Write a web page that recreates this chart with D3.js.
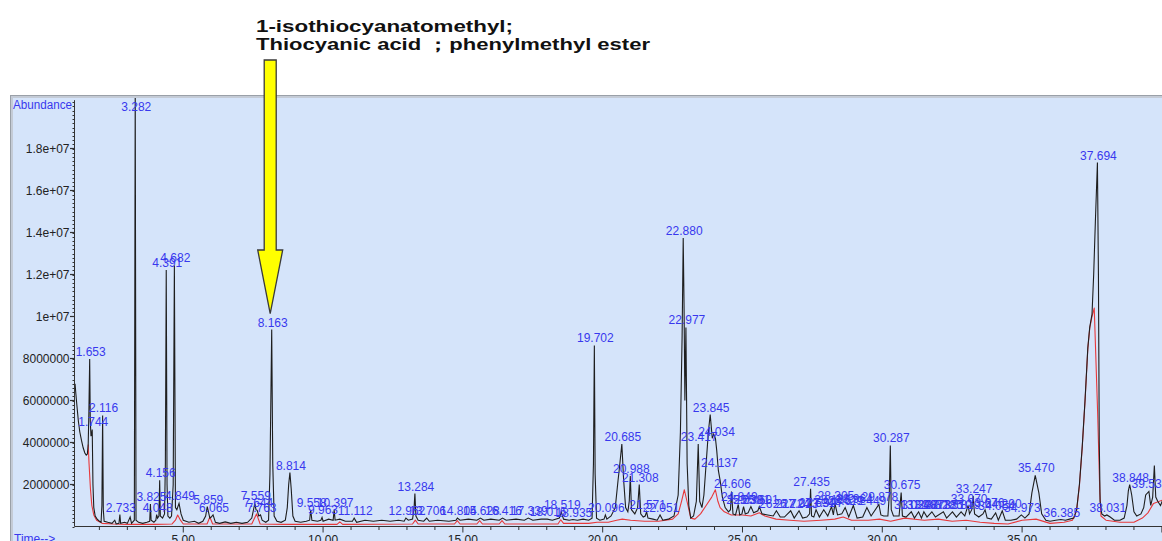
<!DOCTYPE html>
<html>
<head>
<meta charset="utf-8">
<script src="https://cdn.jsdelivr.net/npm/d3@7/dist/d3.min.js"></script>
<style>
  html, body { margin: 0; padding: 0; background: #fff; }
  svg { display: block; font-family: "Liberation Sans", Arial, sans-serif; }
</style>
</head>
<body>
<svg id="chart" width="1162" height="541"></svg>
<script>
// ---- Data (time in minutes, abundance in millions of counts) ----
const peakTimes = [1.653, 1.744, 2.116, 2.733, 3.282, 3.825, 4.048, 4.156, 4.391, 4.682, 4.849,
  5.859, 6.065, 7.559, 7.644, 7.763, 8.163, 8.814, 9.558, 9.963, 10.397, 11.112, 12.962, 13.284,
  13.706, 14.804, 15.628, 16.416, 17.339, 18.016, 18.519, 18.935, 19.702, 20.096, 20.685, 20.988,
  21.308, 21.571, 22.051, 22.880, 22.977, 23.417, 23.845, 24.034, 24.137, 24.606, 24.849, 25.038,
  25.301, 25.601, 26.212, 26.724, 27.023, 27.435, 27.631, 27.907, 28.185, 28.305, 28.672, 28.964,
  29.449, 29.878, 30.287, 30.675, 31.037, 31.298, 31.487, 31.773, 32.185, 32.510, 32.819, 33.070,
  33.247, 33.676, 34.054, 34.290, 34.973, 35.470, 36.385, 37.694, 38.031, 38.848, 39.535];
const peakHeights = [7.98, 4.62, 5.29, 0.57, 21.0, 1.07, 0.57, 2.2, 12.21, 12.43, 1.1,
  0.95, 0.55, 1.1, 0.77, 0.55, 9.38, 2.57, 0.8, 0.43, 0.8, 0.4, 0.4, 1.57,
  0.4, 0.4, 0.4, 0.4, 0.4, 0.35, 0.7, 0.33, 8.62, 0.55, 3.93, 2.4,
  2.0, 0.7, 0.55, 13.74, 9.48, 3.93, 5.33, 4.19, 2.67, 1.67, 1.05, 0.95,
  0.95, 0.95, 0.75, 0.75, 0.75, 1.8, 0.8, 0.8, 0.95, 1.1, 0.9, 1.0,
  0.9, 1.05, 3.86, 1.62, 0.7, 0.7, 0.7, 0.7, 0.7, 0.7, 0.7, 1.0,
  1.45, 0.8, 0.65, 0.75, 0.55, 2.43, 0.33, 17.33, 0.55, 2.0, 1.67];

// Total ion current between the labelled apexes
const ticPoints = [
  [1.13, 6.8], [1.16, 6.3], [1.2, 5.7], [1.25, 5.0], [1.3, 4.5], [1.36, 4.1], [1.42, 3.75],
  [1.48, 3.5], [1.53, 3.4], [1.57, 3.45], [1.6, 3.9], [1.625, 5.5], [1.675, 5.0], [1.7, 4.3],
  [1.72, 4.4], [1.77, 2.0], [1.8, 0.9], [1.85, 0.5], [1.92, 0.35], [2.0, 0.25], [2.06, 0.2],
  [2.09, 1.0], [2.14, 0.8], [2.17, 0.25], [2.3, 0.2], [2.45, 0.15], [2.55, 0.3], [2.6, 0.12],
  [2.7, 0.15], [2.76, 0.15], [2.9, 0.2], [3.0, 0.15], [3.1, 0.45], [3.15, 0.15], [3.25, 0.3],
  [3.31, 0.3], [3.4, 0.2], [3.55, 0.15], [3.7, 0.2], [3.8, 0.25], [3.85, 0.3], [3.95, 0.2],
  [4.02, 0.3], [4.08, 0.4], [4.13, 0.5], [4.18, 0.5], [4.26, 0.4], [4.33, 0.6], [4.36, 3.0],
  [4.42, 2.0], [4.45, 0.5], [4.52, 0.4], [4.58, 0.5], [4.64, 2.0], [4.72, 0.9], [4.77, 0.8],
  [4.92, 0.6], [5.0, 0.3], [5.2, 0.2], [5.4, 0.25], [5.55, 0.15], [5.7, 0.25], [5.8, 0.5],
  [5.95, 0.4], [6.0, 0.45], [6.15, 0.2], [6.3, 0.15], [6.5, 0.22], [6.7, 0.15], [6.9, 0.2],
  [7.1, 0.15], [7.3, 0.2], [7.45, 0.4], [7.6, 0.8], [7.7, 0.5], [7.82, 0.3], [7.95, 0.2],
  [8.05, 0.3], [8.1, 2.5], [8.2, 3.0], [8.25, 0.5], [8.35, 0.25], [8.5, 0.2], [8.65, 0.3],
  [8.72, 0.9], [8.77, 2.0], [8.86, 1.8], [8.92, 0.5], [9.0, 0.25], [9.2, 0.2], [9.4, 0.25],
  [9.52, 0.3], [9.6, 0.3], [9.8, 0.25], [9.92, 0.3], [10.0, 0.25], [10.2, 0.35], [10.36, 0.3],
  [10.43, 0.3], [10.6, 0.35], [10.8, 0.25], [11.05, 0.25], [11.2, 0.2], [11.5, 0.3],
  [11.8, 0.25], [12.1, 0.3], [12.4, 0.25], [12.7, 0.3], [12.9, 0.25], [13.05, 0.3],
  [13.2, 0.35], [13.25, 0.8], [13.32, 0.5], [13.4, 0.3], [13.6, 0.25], [13.8, 0.25],
  [14.1, 0.3], [14.5, 0.25], [14.75, 0.3], [14.9, 0.3], [15.2, 0.35], [15.5, 0.3],
  [15.75, 0.3], [16.0, 0.35], [16.3, 0.3], [16.55, 0.3], [16.9, 0.35], [17.2, 0.3],
  [17.5, 0.3], [17.8, 0.35], [18.2, 0.3], [18.45, 0.4], [18.6, 0.35], [18.8, 0.3],
  [19.1, 0.3], [19.3, 0.35], [19.5, 0.3], [19.62, 0.4], [19.67, 3.0], [19.73, 2.5],
  [19.78, 0.4], [19.9, 0.3], [20.05, 0.35], [20.15, 0.35], [20.3, 0.5], [20.45, 0.9],
  [20.55, 2.2], [20.6, 2.8], [20.75, 2.2], [20.82, 0.9], [20.9, 0.7], [20.95, 1.2],
  [21.03, 0.8], [21.15, 0.6], [21.25, 0.9], [21.36, 0.6], [21.45, 0.45], [21.52, 0.5],
  [21.62, 0.4], [21.8, 0.35], [21.95, 0.3], [22.15, 0.3], [22.35, 0.35], [22.55, 0.5],
  [22.7, 1.5], [22.78, 4.5], [22.84, 9.0], [22.91, 10.5], [22.94, 6.0], [23.02, 3.0],
  [23.08, 1.0], [23.15, 0.4], [23.25, 0.5], [23.35, 1.2], [23.47, 1.2], [23.55, 0.9],
  [23.62, 1.5], [23.7, 3.0], [23.78, 4.5], [23.92, 4.2], [23.97, 4.4], [24.08, 3.6],
  [24.2, 2.2], [24.28, 1.4], [24.38, 0.9], [24.5, 0.7], [24.57, 0.8], [24.66, 0.6],
  [24.75, 0.55], [24.9, 0.55], [24.98, 0.6], [25.1, 0.6], [25.2, 0.65], [25.4, 0.65],
  [25.55, 0.75], [25.7, 0.6], [25.9, 0.55], [26.1, 0.5], [26.35, 0.45], [26.5, 0.45],
  [26.85, 0.4], [27.15, 0.4], [27.3, 0.45], [27.4, 0.6], [27.47, 0.5], [27.55, 0.45],
  [27.75, 0.45], [28.05, 0.5], [28.25, 0.55], [28.4, 0.55], [28.55, 0.6], [28.8, 0.45],
  [29.1, 0.4], [29.3, 0.45], [29.6, 0.5], [29.95, 0.55], [30.05, 0.5], [30.2, 0.5],
  [30.25, 1.5], [30.32, 0.8], [30.4, 0.5], [30.6, 0.5], [30.72, 0.5], [30.85, 0.45],
  [31.15, 0.4], [31.4, 0.4], [31.6, 0.45], [31.9, 0.45], [32.3, 0.4], [32.65, 0.45],
  [32.95, 0.5], [33.02, 0.8], [33.12, 0.6], [33.2, 0.8], [33.3, 0.6], [33.45, 0.45],
  [33.6, 0.6], [33.75, 0.4], [33.9, 0.35], [34.15, 0.3], [34.4, 0.3], [34.6, 0.3],
  [34.8, 0.35], [35.1, 0.4], [35.25, 0.6], [35.35, 1.6], [35.6, 1.6], [35.7, 0.6],
  [35.85, 0.3], [36.0, 0.25], [36.2, 0.3], [36.55, 0.3], [36.7, 0.35], [36.85, 0.4],
  [36.95, 0.8], [37.05, 2.0], [37.15, 3.8], [37.25, 6.0], [37.35, 8.5], [37.42, 9.5],
  [37.5, 10.1], [37.56, 12.0], [37.62, 14.5], [37.73, 12.0], [37.76, 4.0], [37.79, 1.2],
  [37.85, 0.6], [37.95, 0.5], [38.15, 0.45], [38.3, 0.3], [38.5, 0.3], [38.65, 0.4],
  [38.75, 1.0], [38.8, 1.7], [38.92, 1.5], [39.0, 0.7], [39.1, 0.5], [39.25, 0.6],
  [39.35, 0.9], [39.42, 1.5], [39.6, 1.0], [39.67, 1.4], [39.73, 2.9], [39.78, 1.4],
  [39.85, 1.2], [39.95, 1.0], [40.1, 1.5]
];

// Second (red) trace
const refPoints = [
  [1.6, 3.9], [1.63, 3.0], [1.68, 1.8], [1.73, 1.0], [1.8, 0.55], [1.9, 0.3], [2.1, 0.15],
  [2.5, 0.12], [3.0, 0.1], [4.0, 0.1], [4.6, 0.12], [4.72, 0.3], [4.8, 0.55], [4.9, 0.3],
  [5.0, 0.12], [5.85, 0.12], [5.95, 0.45], [6.05, 0.12], [7.45, 0.12], [7.62, 0.6],
  [7.75, 0.12], [8.6, 0.1], [10.5, 0.1], [10.6, 0.22], [10.7, 0.1], [13.2, 0.12],
  [13.3, 0.3], [13.4, 0.12], [14.7, 0.12], [14.8, 0.28], [14.9, 0.12], [15.5, 0.12],
  [15.6, 0.28], [15.7, 0.12], [16.3, 0.12], [16.4, 0.28], [16.5, 0.12], [18.4, 0.12],
  [18.5, 0.32], [18.6, 0.15], [19.5, 0.15], [19.8, 0.2], [20.2, 0.2], [20.5, 0.3],
  [20.7, 0.35], [21.0, 0.3], [21.5, 0.25], [22.0, 0.25], [22.5, 0.35], [22.7, 0.6],
  [22.82, 1.2], [22.92, 1.75], [23.05, 1.0], [23.15, 0.4], [23.3, 0.35], [23.5, 0.6],
  [23.7, 1.0], [23.9, 1.4], [24.03, 1.75], [24.12, 1.2], [24.2, 0.9], [24.35, 0.7],
  [24.6, 0.55], [25.0, 0.55], [25.3, 0.5], [25.6, 0.65], [25.8, 0.5], [26.2, 0.35],
  [26.7, 0.3], [27.2, 0.25], [27.8, 0.3], [28.3, 0.35], [28.6, 0.45], [28.9, 0.3],
  [29.5, 0.3], [29.9, 0.35], [30.3, 0.25], [30.8, 0.4], [31.5, 0.3], [32.0, 0.35],
  [32.5, 0.25], [33.0, 0.3], [33.5, 0.2], [34.0, 0.15], [34.5, 0.12], [35.0, 0.3],
  [35.5, 0.35], [36.0, 0.15], [36.5, 0.2], [36.8, 0.3], [36.95, 0.75], [37.05, 1.95],
  [37.15, 3.75], [37.25, 5.95], [37.35, 8.45], [37.42, 9.45], [37.5, 10.0], [37.58, 10.4],
  [37.7, 5.5], [37.78, 1.6], [37.82, 0.5], [38.0, 0.3], [38.5, 0.2], [39.0, 0.2],
  [39.3, 0.4], [39.5, 0.65], [39.7, 1.1], [40.1, 1.3]
];

const yTickValues = [2, 4, 6, 8, 10, 12, 14, 16, 18];
const yTickLabels = ["2000000", "4000000", "6000000", "8000000", "1e+07", "1.2e+07", "1.4e+07", "1.6e+07", "1.8e+07"];
const xTickValues = [5, 10, 15, 20, 25, 30, 35];
const xTickLabels = ["5.00", "10.00", "15.00", "20.00", "25.00", "30.00", "35.00"];

const annotatedPeak = 8.163;
const annotationLines = ["1-isothiocyanatomethyl;", "Thiocyanic acid \uFF1Bphenylmethyl ester"];

// ---- Layout ----
const svg = d3.select("#chart");
const W = 1162, H = 541;
const panel = { left: 12, top: 97 };
const x = d3.scaleLinear().domain([1.11, 40.1]).range([74.5, 1164.7]);
const y = d3.scaleLinear().domain([0, 20.3]).range([526.5, 100.2]);
const blue = "#3838ee";

// panel background and frame
svg.append("rect").attr("x", panel.left).attr("y", panel.top)
  .attr("width", W - panel.left).attr("height", H - panel.top).attr("fill", "#d5e4fa");
svg.append("line").attr("x1", panel.left - 2).attr("x2", W).attr("y1", panel.top - 1.5).attr("y2", panel.top - 1.5)
  .attr("stroke", "#9aa0a8").attr("stroke-width", 1);
svg.append("line").attr("x1", panel.left - 2).attr("x2", W).attr("y1", panel.top).attr("y2", panel.top)
  .attr("stroke", "#c4cbd6").attr("stroke-width", 2);
svg.append("line").attr("x1", panel.left - 1.5).attr("x2", panel.left - 1.5).attr("y1", panel.top - 2).attr("y2", H)
  .attr("stroke", "#9aa0a8").attr("stroke-width", 1);
svg.append("line").attr("x1", panel.left).attr("x2", panel.left).attr("y1", panel.top).attr("y2", H)
  .attr("stroke", "#c4cbd6").attr("stroke-width", 2);

// clip for traces
svg.append("clipPath").attr("id", "plotClip").append("rect")
  .attr("x", x.range()[0]).attr("y", panel.top + 1).attr("width", W - x.range()[0]).attr("height", y(0) - panel.top);

// ---- Axes ----
const yAxisG = svg.append("g").attr("stroke", "#333");
yAxisG.append("line").attr("x1", x.range()[0]).attr("x2", x.range()[0]).attr("y1", y(0)).attr("y2", y(20.3))
  .attr("stroke-width", 1);
// minor y ticks every 0.2 M
const minorY = d3.range(0, 20.3, 0.2);
yAxisG.selectAll("line.minor").data(minorY).join("line").attr("class", "minor")
  .attr("x1", x.range()[0] - 2).attr("x2", x.range()[0])
  .attr("y1", d => Math.round(y(d)) + 0.5).attr("y2", d => Math.round(y(d)) + 0.5).attr("stroke-width", 1);
yAxisG.selectAll("line.major").data(yTickValues).join("line").attr("class", "major")
  .attr("x1", x.range()[0] - 4.5).attr("x2", x.range()[0])
  .attr("y1", d => y(d)).attr("y2", d => y(d)).attr("stroke-width", 1.2);
svg.append("g").selectAll("text").data(yTickValues).join("text")
  .attr("x", x.range()[0] - 5).attr("y", d => y(d) + 4.3)
  .attr("text-anchor", "end").attr("font-size", 12).attr("fill", "#222")
  .text((d, i) => yTickLabels[i]);

const xAxisG = svg.append("g").attr("stroke", "#333");
xAxisG.append("line").attr("x1", x.range()[0]).attr("x2", W).attr("y1", y(0)).attr("y2", y(0)).attr("stroke-width", 1);
const minorX = d3.range(2, 41, 1);
xAxisG.selectAll("line.minor").data(minorX).join("line").attr("class", "minor")
  .attr("x1", d => x(d)).attr("x2", d => x(d))
  .attr("y1", y(0)).attr("y2", d => y(0) + (d % 5 === 0 ? 6 : 3.5)).attr("stroke-width", 1);
svg.append("g").selectAll("text").data(xTickValues).join("text")
  .attr("x", d => x(d)).attr("y", y(0) + 17)
  .attr("text-anchor", "middle").attr("font-size", 12).attr("fill", "#222")
  .text((d, i) => xTickLabels[i]);

svg.append("text").attr("x", 13).attr("y", 109).attr("font-size", 12).attr("fill", blue)
  .attr("textLength", 59).attr("lengthAdjust", "spacingAndGlyphs").text("Abundance");
svg.append("text").attr("x", 14).attr("y", 543).attr("font-size", 12).attr("fill", blue).text("Time-->");

// ---- Traces ----
const line = d3.line().x(d => x(d[0])).y(d => y(d[1]));
const peakPoints = peakTimes.map((t, i) => [t, peakHeights[i]]);
const tic = ticPoints.concat(peakPoints).sort((a, b) => a[0] - b[0]);

const traces = svg.append("g").attr("clip-path", "url(#plotClip)");
traces.append("path").datum(refPoints).attr("d", line)
  .attr("fill", "none").attr("stroke", "#e8383a").attr("stroke-width", 1.1).attr("stroke-linejoin", "round");
traces.append("path").datum(tic).attr("d", line)
  .attr("fill", "none").attr("stroke", "#1e1e1e").attr("stroke-width", 1.1).attr("stroke-linejoin", "miter");

// ---- Peak labels ----
svg.append("g").selectAll("text").data(peakPoints).join("text")
  .attr("x", d => x(d[0]) + 1)
  .attr("y", d => Math.max(y(d[1]) - 3, y.range()[1] + 11))
  .attr("text-anchor", "middle").attr("font-size", 12).attr("fill", blue)
  .text(d => d[0].toFixed(3));

// ---- Annotation arrow and compound name ----
const ax = x(annotatedPeak) - 1.5;
const peakIdx = peakTimes.indexOf(annotatedPeak);
const tipY = y(peakHeights[peakIdx]) - 16;
const shaftTop = 60, headTop = 250, shaftHalf = 6, headHalf = 12.5;
const arrowPath = d3.path();
arrowPath.moveTo(ax - shaftHalf, shaftTop);
arrowPath.lineTo(ax + shaftHalf, shaftTop);
arrowPath.lineTo(ax + shaftHalf, headTop);
arrowPath.lineTo(ax + headHalf, headTop);
arrowPath.lineTo(ax, tipY);
arrowPath.lineTo(ax - headHalf, headTop);
arrowPath.lineTo(ax - shaftHalf, headTop);
arrowPath.closePath();
svg.append("path").attr("d", arrowPath.toString())
  .attr("fill", "#ffff00").attr("stroke", "#3a3a3a").attr("stroke-width", 1.3).attr("stroke-linejoin", "miter");

const annot = svg.append("g").attr("font-weight", "bold").attr("font-size", 16).attr("fill", "#111");
annot.append("text").attr("x", 256).attr("y", 32)
  .attr("textLength", 257).attr("lengthAdjust", "spacingAndGlyphs").text(annotationLines[0]);
annot.append("text").attr("x", 256).attr("y", 50)
  .attr("textLength", 394).attr("lengthAdjust", "spacingAndGlyphs").text(annotationLines[1]);
</script>
</body>
</html>
